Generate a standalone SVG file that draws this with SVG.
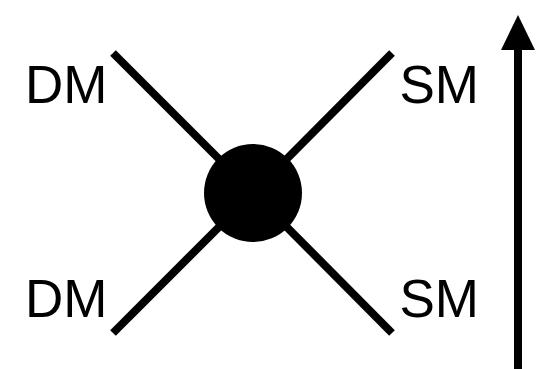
<svg xmlns="http://www.w3.org/2000/svg" width="556" height="369" viewBox="0 0 556 369">
<style>
.lbl{font-family:"Liberation Sans",Arial,sans-serif;font-size:53px;fill:#000}
.leg{stroke:#000;stroke-width:8;fill:none}
</style>
<rect width="556" height="369" fill="#fff"/>
<g id="connectors">
<line class="leg" x1="113" y1="53" x2="253" y2="193"/>
<line class="leg" x1="392" y1="53" x2="253" y2="193"/>
<line class="leg" x1="113" y1="333" x2="253" y2="193"/>
<line class="leg" x1="392" y1="333" x2="253" y2="193"/>
<line x1="518" y1="48" x2="518" y2="369" stroke="#000" stroke-width="8"/>
<polygon points="518,15 501,50 535,50" fill="#000"/>
</g>
<g id="vertex"><circle cx="253" cy="193" r="49" fill="#000"/></g>
<g id="label-dm-top"><text class="lbl" x="25" y="103">DM</text></g>
<g id="label-sm-top"><text class="lbl" x="399.5" y="103">SM</text></g>
<g id="label-dm-bottom"><text class="lbl" x="25" y="317">DM</text></g>
<g id="label-sm-bottom"><text class="lbl" x="399.5" y="317">SM</text></g>
</svg>
